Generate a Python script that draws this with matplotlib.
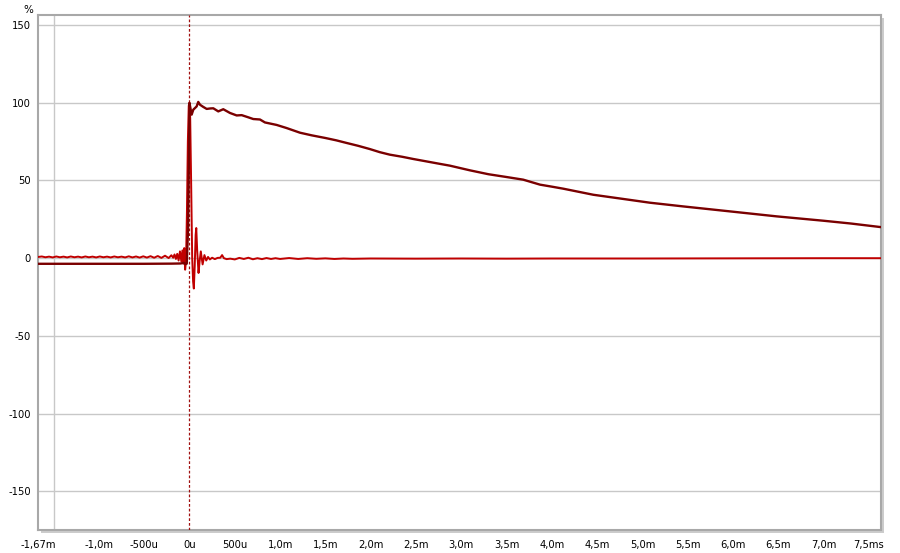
import matplotlib
matplotlib.use("Agg")
import matplotlib.pyplot as plt
from matplotlib.patches import Rectangle

# ---------------- data (time in ms, values in %) ----------------
imp_t = [-1.67, -1.63, -1.59, -1.55, -1.51, -1.47, -1.43, -1.39, -1.35, -1.31,
         -1.27, -1.23, -1.19, -1.15, -1.11, -1.07, -1.03, -0.99, -0.95, -0.91,
         -0.87, -0.83, -0.79, -0.75, -0.71, -0.67, -0.63, -0.59, -0.55, -0.51,
         -0.47, -0.43, -0.39, -0.35, -0.31, -0.27, -0.23,
         -0.20, -0.18, -0.165, -0.15, -0.135, -0.12, -0.105, -0.09, -0.078, -0.066,
         -0.058, -0.048, -0.038, -0.028, -0.018, -0.008, 0.0, 0.008, 0.018, 0.03,
         0.04, 0.048, 0.058, 0.068, 0.075, 0.085, 0.10, 0.112, 0.125, 0.145,
         0.165, 0.185, 0.205, 0.225, 0.25, 0.28, 0.31, 0.34, 0.36, 0.38,
         0.41, 0.45, 0.50, 0.55, 0.60, 0.65, 0.70, 0.75, 0.80, 0.85,
         0.90, 0.95, 1.00, 1.10, 1.20, 1.30, 1.40, 1.50, 1.60, 1.70,
         1.80, 2.00, 2.50, 3.00, 3.50, 4.00, 5.00, 6.00, 7.00, 7.63]
imp_v = [0.8, 1.1, 0.6, 1.0, 0.5, 1.1, 0.6, 1.0, 0.5, 1.1,
         0.6, 1.0, 0.5, 1.1, 0.6, 1.0, 0.5, 1.1, 0.6, 1.0,
         0.5, 1.1, 0.6, 1.0, 0.5, 1.2, 0.5, 1.1, 0.4, 1.2,
         0.4, 1.3, 0.3, 1.4, 0.2, 1.6, 0.1,
         1.9, 0.3, 2.4, -0.5, 2.8, -1.5, 4.4, -2.0, 5.0, -3.5,
         6.5, -7.4, -2.0, 30.0, 75.0, 98.0, 100.0, 90.0, 50.0, 0.0,
         -15.0, -19.5, -5.0, 15.0, 19.4, 5.0, -9.5, -2.0, 4.4, -4.0,
         2.0, -1.5, 0.8, -0.8, 0.3, -0.6, 0.2, 0.3, 2.0, 0.0,
         -0.6, -0.3, -0.8, 0.2, -0.5, 0.3, -0.7, 0.0, -0.6, 0.1,
         -0.5, 0.0, -0.5, 0.1, -0.5, 0.0, -0.4, -0.1, -0.5, -0.2,
         -0.4, -0.2, -0.3, -0.2, -0.3, -0.2, -0.2, -0.1, 0.0, 0.0]

step_t = [-1.67, -0.5, -0.2, -0.1, -0.06, -0.045, -0.03, -0.015, -0.005, 0.0,
          0.012, 0.024, 0.042, 0.079, 0.097, 0.116, 0.152, 0.19, 0.23, 0.263,
          0.318, 0.373, 0.447, 0.521, 0.576, 0.649, 0.704, 0.778, 0.833, 0.962,
          1.072, 1.22, 1.35, 1.5, 1.62, 1.735, 1.86, 1.99, 2.1, 2.21,
          2.35, 2.47, 2.62, 2.77, 2.875, 3.0, 3.096, 3.3, 3.5, 3.684,
          3.869, 4.0, 4.126, 4.457, 4.788, 5.08, 5.45, 5.966, 6.481, 6.996,
          7.3, 7.63]
step_v = [-3.6, -3.6, -3.5, -3.4, -3.0, -3.8, -3.5, 20.0, 70.0, 99.8,
          96.0, 92.3, 95.5, 97.6, 100.5, 98.7, 97.3, 96.0, 96.3, 96.4,
          94.4, 95.8, 93.4, 91.8, 92.0, 90.6, 89.5, 89.2, 87.3, 85.7,
          83.7, 80.7, 79.0, 77.3, 75.8, 74.1, 72.3, 70.2, 68.2, 66.6,
          65.2, 63.8, 62.2, 60.6, 59.5, 57.8, 56.5, 54.0, 52.2, 50.5,
          47.3, 46.0, 44.7, 40.8, 38.1, 35.7, 33.3, 30.1, 26.9, 24.1,
          22.3, 20.0]

xtick_pos = [-1.67, -1.0, -0.5, 0.0, 0.5, 1.0, 1.5, 2.0, 2.5, 3.0, 3.5,
             4.0, 4.5, 5.0, 5.5, 6.0, 6.5, 7.0, 7.5]
xtick_lbl = ["-1,67m", "-1,0m", "-500u", "0u", "500u", "1,0m", "1,5m", "2,0m",
             "2,5m", "3,0m", "3,5m", "4,0m", "4,5m", "5,0m", "5,5m", "6,0m",
             "6,5m", "7,0m", "7,5ms"]
xgrid_pos = [-1.5, -1.0, -0.5, 0.0, 0.5, 1.0, 1.5, 2.0, 2.5, 3.0, 3.5,
             4.0, 4.5, 5.0, 5.5, 6.0, 6.5, 7.0, 7.5]
ytick_pos = [-150, -100, -50, 0, 50, 100, 150]
ytick_lbl = ["-150", "-100", "-50", "0", "50", "100", "150"]

# ---------------- figure ----------------
plt.rcParams['font.family'] = ['DejaVu Sans']
W, H = 900, 553
fig = plt.figure(figsize=(W / 100, H / 100), dpi=100)
fig.patch.set_facecolor('white')

L, R, T, B = 38, 881, 15, 530
ax = fig.add_axes([L / W, 1 - B / H, (R - L) / W, (B - T) / H])
ax.set_zorder(2)

# shadow behind plot frame (right & bottom)
fig.patches.append(Rectangle(((L + 3) / W, 1 - (B + 3) / H), (R - L) / W, (B - T) / H,
                             transform=fig.transFigure, facecolor='#cccccc',
                             edgecolor='none', zorder=0))

ax.set_xlim(-1.672, 7.633)
ax.set_ylim(-174.8, 156.4)

ax.set_xticks(xtick_pos)
ax.set_xticklabels(xtick_lbl)
ax.set_xticks(xgrid_pos, minor=True)
ax.set_yticks(ytick_pos)
ax.set_yticklabels(ytick_lbl)

ax.grid(False, which='major', axis='x')
ax.grid(True, which='minor', axis='x', color='#c8c8c8', lw=1.0)
ax.grid(True, which='major', axis='y', color='#c8c8c8', lw=1.0)
ax.set_axisbelow(True)

ax.tick_params(axis='both', which='both', length=0, labelsize=7.2, colors='black')
ax.tick_params(axis='x', pad=7)
ax.tick_params(axis='y', pad=5)

for s in ax.spines.values():
    s.set_color('#a8a8a8')
    s.set_linewidth(1.5)

ax.axvline(0.0, color='#a01010', lw=0.9, ls=(0, (2.2, 1.6)), zorder=3)

ax.plot(imp_t, imp_v, color='#c00000', lw=1.4, zorder=4)
ax.plot(step_t, step_v, color='#7a0000', lw=1.7, zorder=5)

fig.text(28 / W, 1 - 10 / H, "%", fontsize=7.5, ha='center', va='center')

fig.savefig("out.png", dpi=100)
